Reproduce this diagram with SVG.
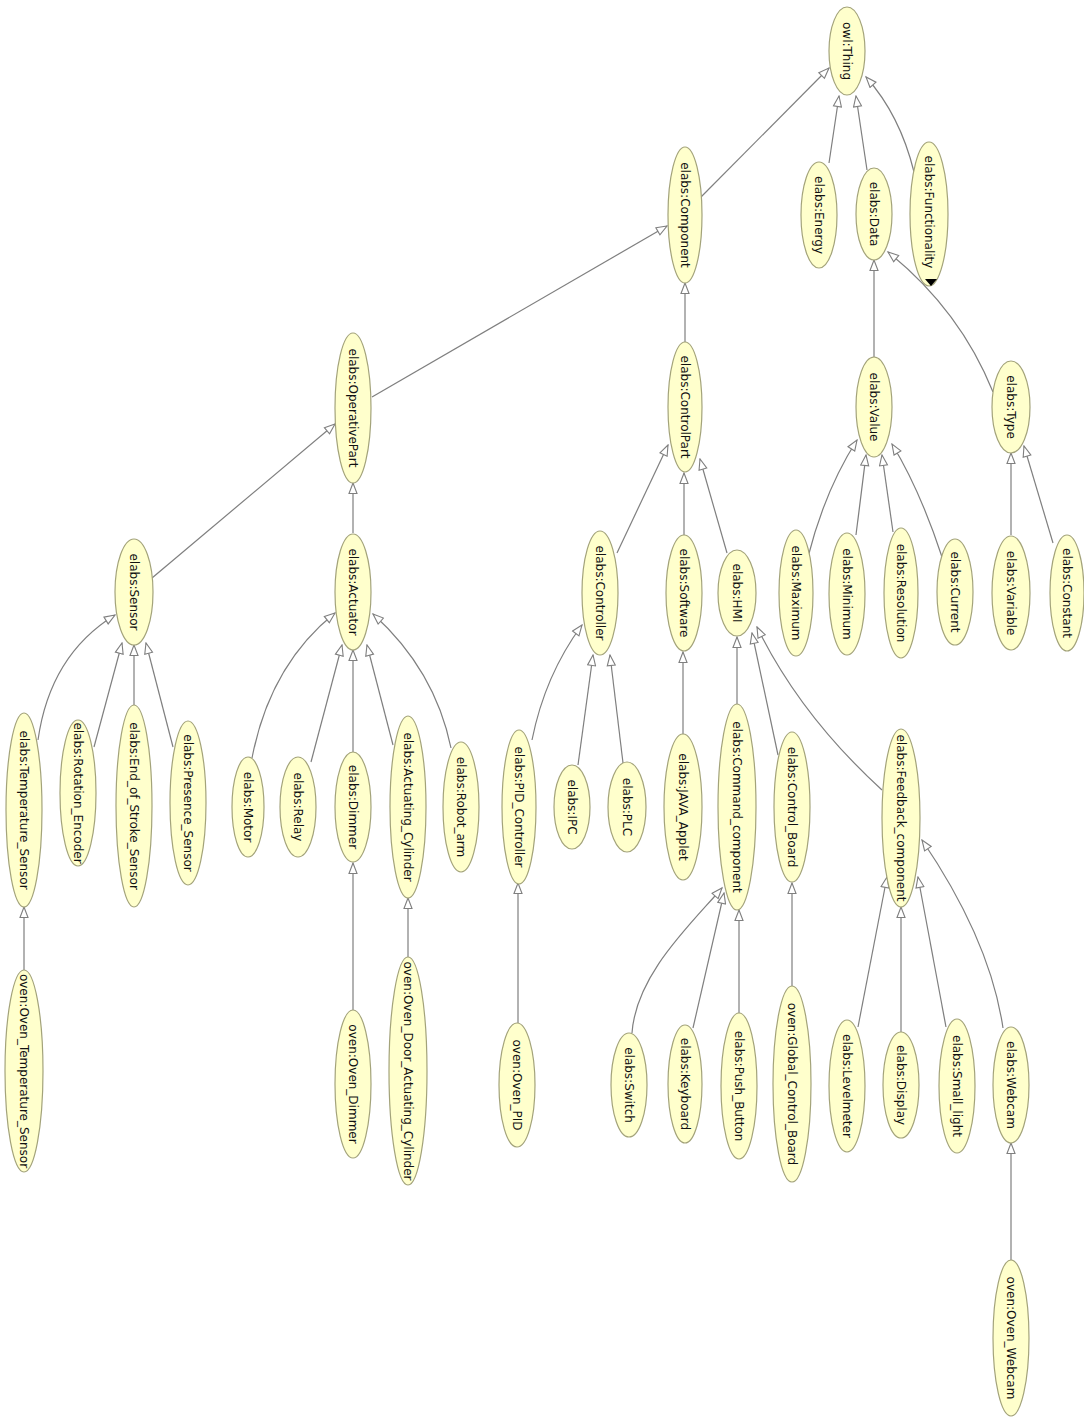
<svg xmlns="http://www.w3.org/2000/svg" width="1084" height="1418" viewBox="0 0 1084 1418">
<style>
.n ellipse{fill:#ffffcc;stroke:#a3a37a;stroke-width:1.2}
.n text{font-family:"DejaVu Sans","Liberation Sans",sans-serif;font-size:12px;fill:#111;text-anchor:middle;dominant-baseline:central}
.e path{fill:none;stroke:#7f7f7f;stroke-width:1.2;marker-end:url(#arr)}
</style>
<defs>
<marker id="arr" markerUnits="userSpaceOnUse" markerWidth="13" markerHeight="10" refX="11.5" refY="5" orient="auto">
<path d="M1,1 L11.5,5 L1,9 z" fill="#fff" stroke="#7f7f7f" stroke-width="1.1"/>
</marker>
</defs>
<rect width="1084" height="1418" fill="#fff"/>
<g class="e" id="connectors">
<path d="M701,197 L829,68"/>
<path d="M829,163 L839,96"/>
<path d="M867,170 L856,96"/>
<path d="M914,172 Q900,115 866,77"/>
<path d="M372,397 L667,226"/>
<path d="M685,342 L685,283"/>
<path d="M152,578 L335,424"/>
<path d="M353,533 L353,483"/>
<path d="M874,358 L874,260"/>
<path d="M993,392 Q960,310 888,252"/>
<path d="M38,740 Q50,655 115,615"/>
<path d="M94,747 L122,643"/>
<path d="M134,705 L134,645"/>
<path d="M173,747 L146,643"/>
<path d="M24,970 L24,907"/>
<path d="M252,758 Q270,665 335,613"/>
<path d="M311,762 L342,645"/>
<path d="M353,752 L353,650"/>
<path d="M393,745 L367,645"/>
<path d="M451,748 Q435,670 373,614"/>
<path d="M353,1010 L353,863"/>
<path d="M408,957 L408,898"/>
<path d="M617,553 L668,445"/>
<path d="M684,535 L684,473"/>
<path d="M727,553 L700,459"/>
<path d="M532,740 Q545,675 582,625"/>
<path d="M578,765 L593,655"/>
<path d="M623,763 L610,655"/>
<path d="M683,735 L683,652"/>
<path d="M518,1023 L518,883"/>
<path d="M737,705 L737,637"/>
<path d="M778,755 L752,633"/>
<path d="M882,790 Q800,715 757,627"/>
<path d="M632,1033 C636,975 690,925 722,888"/>
<path d="M693,1028 L724,893"/>
<path d="M739,1013 L739,910"/>
<path d="M792,987 L792,883"/>
<path d="M858,1027 L887,877"/>
<path d="M901,1032 L901,907"/>
<path d="M946,1027 L918,877"/>
<path d="M1003,1028 Q990,940 922,840"/>
<path d="M1011,1260 L1011,1143"/>
<path d="M808,557 Q825,490 857,440"/>
<path d="M856,535 L866,455"/>
<path d="M893,532 L882,455"/>
<path d="M942,557 Q920,490 892,444"/>
<path d="M1011,535 L1011,453"/>
<path d="M1053,543 L1024,446"/>
</g>
<g class="n" id="owl_Thing"><ellipse cx="847" cy="51" rx="18" ry="44"/><text transform="rotate(90 847 51)" x="847" y="51">owl:Thing</text></g>
<g class="n" id="elabs_Energy"><ellipse cx="819" cy="215" rx="18" ry="53"/><text transform="rotate(90 819 215)" x="819" y="215">elabs:Energy</text></g>
<g class="n" id="elabs_Data"><ellipse cx="874" cy="214" rx="18" ry="46"/><text transform="rotate(90 874 214)" x="874" y="214">elabs:Data</text></g>
<g class="n" id="elabs_Functionality"><ellipse cx="929" cy="214" rx="19" ry="72"/><text transform="rotate(90 929 212)" x="929" y="212">elabs:Functionality</text><polygon points="925,279 937,279 931,286" fill="#000"/></g>
<g class="n" id="elabs_Component"><ellipse cx="685" cy="215" rx="17" ry="68"/><text transform="rotate(90 685 215)" x="685" y="215">elabs:Component</text></g>
<g class="n" id="elabs_ControlPart"><ellipse cx="685" cy="407" rx="17" ry="65"/><text transform="rotate(90 685 407)" x="685" y="407">elabs:ControlPart</text></g>
<g class="n" id="elabs_OperativePart"><ellipse cx="353" cy="408" rx="18" ry="75"/><text transform="rotate(90 353 408)" x="353" y="408">elabs:OperativePart</text></g>
<g class="n" id="elabs_Sensor"><ellipse cx="134" cy="592" rx="19" ry="53"/><text transform="rotate(90 134 592)" x="134" y="592">elabs:Sensor</text></g>
<g class="n" id="elabs_Actuator"><ellipse cx="353" cy="592" rx="18" ry="58"/><text transform="rotate(90 353 592)" x="353" y="592">elabs:Actuator</text></g>
<g class="n" id="elabs_Temperature_Sensor"><ellipse cx="24" cy="810" rx="18" ry="97"/><text transform="rotate(90 24 810)" x="24" y="810">elabs:Temperature_Sensor</text></g>
<g class="n" id="elabs_Rotation_Encoder"><ellipse cx="78" cy="793" rx="18" ry="73"/><text transform="rotate(90 78 793)" x="78" y="793">elabs:Rotation_Encoder</text></g>
<g class="n" id="elabs_End_of_Stroke_Sensor"><ellipse cx="134" cy="806" rx="18" ry="101"/><text transform="rotate(90 134 806)" x="134" y="806">elabs:End_of_Stroke_Sensor</text></g>
<g class="n" id="elabs_Presence_Sensor"><ellipse cx="188" cy="803" rx="18" ry="82"/><text transform="rotate(90 188 803)" x="188" y="803">elabs:Presence_Sensor</text></g>
<g class="n" id="oven_Oven_Temperature_Sensor"><ellipse cx="24" cy="1071" rx="19" ry="101"/><text transform="rotate(90 24 1071)" x="24" y="1071">oven:Oven_Temperature_Sensor</text></g>
<g class="n" id="elabs_Motor"><ellipse cx="248" cy="807" rx="16" ry="50"/><text transform="rotate(90 248 807)" x="248" y="807">elabs:Motor</text></g>
<g class="n" id="elabs_Relay"><ellipse cx="298" cy="807" rx="18" ry="50"/><text transform="rotate(90 298 807)" x="298" y="807">elabs:Relay</text></g>
<g class="n" id="elabs_Dimmer"><ellipse cx="353" cy="807" rx="18" ry="55"/><text transform="rotate(90 353 807)" x="353" y="807">elabs:Dimmer</text></g>
<g class="n" id="elabs_Actuating_Cylinder"><ellipse cx="408" cy="807" rx="18" ry="91"/><text transform="rotate(90 408 807)" x="408" y="807">elabs:Actuating_Cylinder</text></g>
<g class="n" id="elabs_Robot_arm"><ellipse cx="461" cy="807" rx="18" ry="65"/><text transform="rotate(90 461 807)" x="461" y="807">elabs:Robot_arm</text></g>
<g class="n" id="oven_Oven_Dimmer"><ellipse cx="353" cy="1084" rx="18" ry="74"/><text transform="rotate(90 353 1084)" x="353" y="1084">oven:Oven_Dimmer</text></g>
<g class="n" id="oven_Oven_Door_Actuating_Cylinder"><ellipse cx="408" cy="1071" rx="19" ry="114"/><text transform="rotate(90 408 1071)" x="408" y="1071">oven:Oven_Door_Actuating_Cylinder</text></g>
<g class="n" id="elabs_Controller"><ellipse cx="600" cy="593" rx="18" ry="62"/><text transform="rotate(90 600 593)" x="600" y="593">elabs:Controller</text></g>
<g class="n" id="elabs_Software"><ellipse cx="684" cy="593" rx="18" ry="58"/><text transform="rotate(90 684 593)" x="684" y="593">elabs:Software</text></g>
<g class="n" id="elabs_HMI"><ellipse cx="737" cy="593" rx="19" ry="43"/><text transform="rotate(90 737 593)" x="737" y="593">elabs:HMI</text></g>
<g class="n" id="elabs_PID_Controller"><ellipse cx="519" cy="807" rx="17" ry="77"/><text transform="rotate(90 519 807)" x="519" y="807">elabs:PID_Controller</text></g>
<g class="n" id="elabs_IPC"><ellipse cx="572" cy="807" rx="18" ry="42"/><text transform="rotate(90 572 807)" x="572" y="807">elabs:IPC</text></g>
<g class="n" id="elabs_PLC"><ellipse cx="627" cy="807" rx="19" ry="45"/><text transform="rotate(90 627 807)" x="627" y="807">elabs:PLC</text></g>
<g class="n" id="elabs_JAVA_Applet"><ellipse cx="683" cy="807" rx="19" ry="73"/><text transform="rotate(90 683 807)" x="683" y="807">elabs:JAVA_Applet</text></g>
<g class="n" id="elabs_Command_component"><ellipse cx="737" cy="807" rx="19" ry="103"/><text transform="rotate(90 737 807)" x="737" y="807">elabs:Command_component</text></g>
<g class="n" id="elabs_Control_Board"><ellipse cx="792" cy="807" rx="18" ry="75"/><text transform="rotate(90 792 807)" x="792" y="807">elabs:Control_Board</text></g>
<g class="n" id="elabs_Feedback_component"><ellipse cx="901" cy="818" rx="19" ry="89"/><text transform="rotate(90 901 818)" x="901" y="818">elabs:Feedback_component</text></g>
<g class="n" id="oven_Oven_PID"><ellipse cx="517" cy="1085" rx="18" ry="62"/><text transform="rotate(90 517 1085)" x="517" y="1085">oven:Oven_PID</text></g>
<g class="n" id="elabs_Switch"><ellipse cx="629" cy="1085" rx="18" ry="52"/><text transform="rotate(90 629 1085)" x="629" y="1085">elabs:Switch</text></g>
<g class="n" id="elabs_Keyboard"><ellipse cx="685" cy="1084" rx="17" ry="59"/><text transform="rotate(90 685 1084)" x="685" y="1084">elabs:Keyboard</text></g>
<g class="n" id="elabs_Push_Button"><ellipse cx="739" cy="1086" rx="18" ry="73"/><text transform="rotate(90 739 1086)" x="739" y="1086">elabs:Push_Button</text></g>
<g class="n" id="oven_Global_Control_Board"><ellipse cx="792" cy="1084" rx="19" ry="98"/><text transform="rotate(90 792 1084)" x="792" y="1084">oven:Global_Control_Board</text></g>
<g class="n" id="elabs_Levelmeter"><ellipse cx="847" cy="1086" rx="18" ry="66"/><text transform="rotate(90 847 1086)" x="847" y="1086">elabs:Levelmeter</text></g>
<g class="n" id="elabs_Display"><ellipse cx="901" cy="1085" rx="18" ry="53"/><text transform="rotate(90 901 1085)" x="901" y="1085">elabs:Display</text></g>
<g class="n" id="elabs_Small_light"><ellipse cx="957" cy="1086" rx="18" ry="67"/><text transform="rotate(90 957 1086)" x="957" y="1086">elabs:Small_light</text></g>
<g class="n" id="elabs_Webcam"><ellipse cx="1011" cy="1085" rx="18" ry="58"/><text transform="rotate(90 1011 1085)" x="1011" y="1085">elabs:Webcam</text></g>
<g class="n" id="oven_Oven_Webcam"><ellipse cx="1011" cy="1338" rx="18" ry="78"/><text transform="rotate(90 1011 1338)" x="1011" y="1338">oven:Oven_Webcam</text></g>
<g class="n" id="elabs_Value"><ellipse cx="874" cy="407" rx="18" ry="50"/><text transform="rotate(90 874 407)" x="874" y="407">elabs:Value</text></g>
<g class="n" id="elabs_Type"><ellipse cx="1011" cy="407" rx="19" ry="46"/><text transform="rotate(90 1011 407)" x="1011" y="407">elabs:Type</text></g>
<g class="n" id="elabs_Maximum"><ellipse cx="796" cy="593" rx="17" ry="63"/><text transform="rotate(90 796 593)" x="796" y="593">elabs:Maximum</text></g>
<g class="n" id="elabs_Minimum"><ellipse cx="847" cy="594" rx="18" ry="61"/><text transform="rotate(90 847 594)" x="847" y="594">elabs:Minimum</text></g>
<g class="n" id="elabs_Resolution"><ellipse cx="901" cy="593" rx="17" ry="65"/><text transform="rotate(90 901 593)" x="901" y="593">elabs:Resolution</text></g>
<g class="n" id="elabs_Current"><ellipse cx="955" cy="592" rx="18" ry="53"/><text transform="rotate(90 955 592)" x="955" y="592">elabs:Current</text></g>
<g class="n" id="elabs_Variable"><ellipse cx="1011" cy="593" rx="19" ry="57"/><text transform="rotate(90 1011 593)" x="1011" y="593">elabs:Variable</text></g>
<g class="n" id="elabs_Constant"><ellipse cx="1067" cy="593" rx="17" ry="58"/><text transform="rotate(90 1067 593)" x="1067" y="593">elabs:Constant</text></g>
</svg>
